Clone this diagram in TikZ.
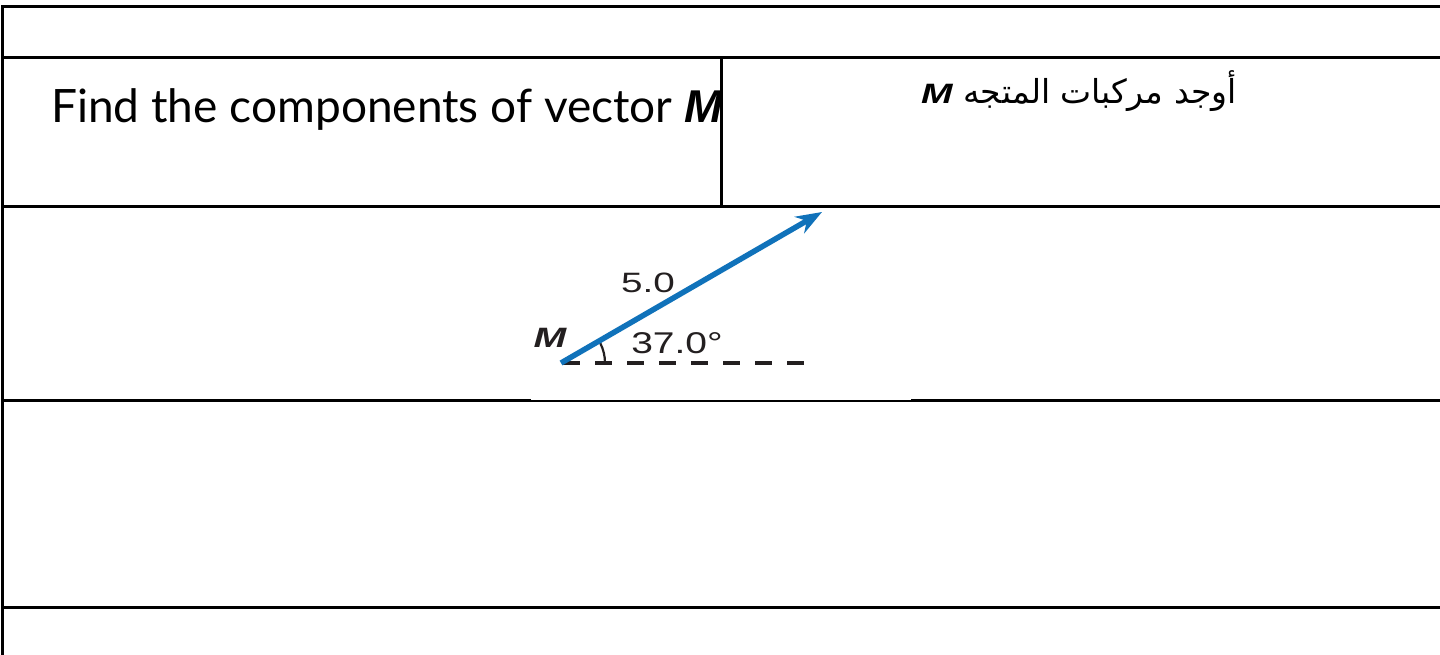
\documentclass[tikz,border=0pt]{standalone}
\usepackage{fontspec}
\setmainfont{Liberation Sans}
\newfontfamily\latofont{Lato}
\newfontfamily\arabicfont[Script=Arabic]{DejaVu Sans}
\TeXXeTstate=1
\usetikzlibrary{arrows.meta,calc}
\definecolor{vecblue}{RGB}{16,114,186}
\definecolor{ink}{RGB}{35,31,32}
\begin{document}
\begin{tikzpicture}[x=1pt,y=-1pt,
  rule/.style={line width=3pt,black},
  lbl/.style={inner sep=0pt,text=ink},
  vecline/.style={line width=5.5pt,vecblue,-{Stealth[length=26pt,width=19pt]}},
  refline/.style={line width=4.5pt,ink,dash pattern=on 17pt off 15pt},
  anglearc/.style={line width=2.2pt,ink}]
\useasboundingbox[fill=white] (0,0) rectangle (1440,655);
% table rules
\draw[rule] (2,655) -- (2,7) -- (1440,7);
\draw[rule] (2,58) -- (1440,58);
\draw[rule] (2,207) -- (1440,207);
\draw[rule] (2,400) -- (1440,400);
\draw[rule] (2,607) -- (1440,607);
\draw[rule] (721,58) -- (721,207);
% pasted figure area
\fill[white] (531,207.6) rectangle (911,399.6);
% header texts
\begin{scope}
\clip (4,59) rectangle (719.5,206);
\node[lbl,text=black,anchor=base west,font=\latofont\fontsize{46}{50}\selectfont] (en) at (51,123)
  {Find the components of vector {\rmfamily\bfseries\itshape M}};
\end{scope}
\node[lbl,text=black,anchor=base east,font=\arabicfont\fontsize{33}{36}\selectfont] (ar) at (1237,104)
  {{\rmfamily\fontsize{28}{30}\selectfont\bfseries\itshape\scalebox{1.35}[1]{M}} \beginR أوجد مركبات المتجه\endR};
% vector diagram
\coordinate (O) at (561,363);
\coordinate (T) at (822,212);
\coordinate (E) at (805,363);
\coordinate (A0) at (605,363);
\draw[refline] ($(O)+(2,0)$) -- (E);
\draw[anglearc] (A0) arc[start angle=0,end angle=-27,radius=44];
\draw[vecline] (O) -- (T);
\node[lbl,font=\fontsize{28}{30}\selectfont] (mag) at (648,283) {\scalebox{1.38}[1]{5.0}};
\node[lbl,font=\fontsize{30}{32}\selectfont] (ang) at (677,343) {\scalebox{1.3}[1]{37.0°}};
\node[lbl,font=\fontsize{28}{30}\selectfont\bfseries\itshape] (M) at (550,338) {\scalebox{1.4}[1]{M}};
\end{tikzpicture}
\end{document}
